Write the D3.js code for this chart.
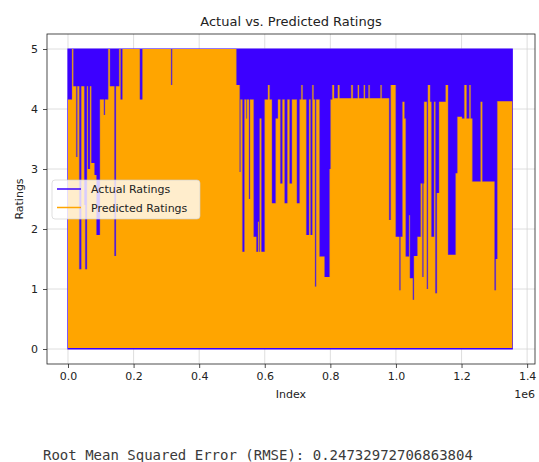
<!DOCTYPE html>
<html>
<head>
<meta charset="utf-8">
<script src="https://cdn.jsdelivr.net/npm/d3@7"></script>
<style>
  body { margin: 0; background: #fff; }
  svg text { font-family: "DejaVu Sans", sans-serif; fill: #222; }
</style>
</head>
<body>
<svg id="chart" width="539" height="462"></svg>
<script>
// actual ratings swing 0..5 across the whole index range
var actualIndex = [0, 1354600];
var actualLow = [0, 0];
var actualHigh = [5, 5];

// predicted ratings: [index where a step starts, upper envelope of the line]
var predicted = [
  [0, 4.16], [12200, 5], [16100, 4.38], [25300, 3.2], [28300, 4.38], [34400, 1.33],
  [40500, 4.38], [49600, 2.4], [52700, 1.33], [57800, 4.38], [60900, 3.0], [67000, 4.38],
  [70900, 3.1], [80700, 2.9], [86800, 1.9], [97400, 4.16], [109600, 3.9], [112600, 4.16],
  [122700, 5], [127900, 4.38], [141600, 1.55], [146100, 4.38], [156200, 5], [160400, 4.16],
  [165900, 5], [219200, 4.16], [226800, 5], [314500, 4.4], [317500, 5],
  [513500, 4.4], [523600, 2.95], [525700, 4.16], [531800, 1.62], [537900, 4.16], [544000, 3.84],
  [545800, 4.16], [551900, 2.5], [554900, 4.16], [566200, 1.87], [574400, 1.62], [579300, 2.12],
  [582300, 1.62], [584500, 3.84], [589600, 1.62], [599700, 4.16], [609700, 4.4], [614900, 4.16],
  [621900, 2.43], [633200, 3.84], [640200, 4.16], [647500, 2.76], [653600, 4.16], [660600, 2.43],
  [668800, 4.16], [675800, 2.76], [682800, 4.16], [698000, 2.43], [706200, 4.16], [711400, 4.4],
  [715400, 4.16], [726600, 1.9], [735200, 4.16], [739700, 1.9], [744900, 4.4], [748800, 4.16],
  [753400, 1.04], [756500, 4.16], [767100, 1.54], [782300, 1.2], [797600, 3.0], [800600, 4.16],
  [805800, 4.4], [811300, 4.18], [822800, 4.4], [828000, 4.18], [863600, 4.4], [868500, 4.18],
  [883700, 4.4], [887400, 4.18], [902000, 4.4], [905600, 4.18], [916300, 4.4], [919900, 4.18],
  [952800, 4.4], [956500, 4.18], [979300, 2.15], [984200, 4.4], [999400, 1.87], [1010600, 0.98],
  [1013700, 1.87], [1019800, 4.12], [1025900, 3.84], [1029800, 1.54], [1040200, 2.23], [1042600, 1.18],
  [1051700, 0.82], [1054800, 1.55], [1065400, 1.87], [1075500, 2.76], [1080700, 1.2], [1083700, 2.76],
  [1085800, 4.12], [1094400, 1.0], [1097400, 4.4], [1104100, 4.12], [1108100, 1.87], [1116300, 4.12],
  [1120200, 0.93], [1124800, 2.6], [1131500, 4.12], [1151600, 4.4], [1158900, 1.57], [1182000, 2.93],
  [1187200, 3.87], [1201500, 3.84], [1208500, 4.4], [1215500, 3.84], [1223700, 4.4], [1227700, 3.84],
  [1232900, 2.79], [1258100, 4.12], [1263300, 2.79], [1300700, 0.98], [1304400, 1.5], [1309000, 4.13],
  [1354600, 4.13]
];
var predictedLow = 0.015;

var xTicks = [0, 200000, 400000, 600000, 800000, 1000000, 1200000, 1400000];
var xTickLabels = ["0.0", "0.2", "0.4", "0.6", "0.8", "1.0", "1.2", "1.4"];
var yTicks = [0, 1, 2, 3, 4, 5];
var yTickLabels = ["0", "1", "2", "3", "4", "5"];
var rmse = "0.24732972706863804";

(function draw() {
  var svg = d3.select("#chart");
  var left = 47, right = 535, plotTop = 34, plotBottom = 364;

  var x = d3.scaleLinear().domain([-64000, 1424000]).range([left, right]);
  var y = d3.scaleLinear().domain([-0.25, 5.25]).range([plotBottom, plotTop]);

  var blue = "#3c00ff", orange = "#ffa500";

  // grid
  var grid = svg.append("g").attr("stroke", "#d6d6d6").attr("stroke-width", 0.8);
  xTicks.forEach(function(t) {
    grid.append("line").attr("x1", x(t)).attr("x2", x(t)).attr("y1", plotTop).attr("y2", plotBottom);
  });
  yTicks.forEach(function(t) {
    grid.append("line").attr("x1", left).attr("x2", right).attr("y1", y(t)).attr("y2", y(t));
  });

  // actual band
  var actual = actualIndex.map(function(d, i) { return {i: d, lo: actualLow[i], hi: actualHigh[i]}; });
  svg.append("path")
    .datum(actual)
    .attr("d", d3.area().x(function(d) { return x(d.i); }).y0(function(d) { return y(d.lo); }).y1(function(d) { return y(d.hi); }))
    .attr("fill", blue)
    .attr("stroke", blue)
    .attr("stroke-width", 1.2);

  // predicted envelope
  svg.append("path")
    .datum(predicted)
    .attr("d", d3.area().curve(d3.curveStepAfter)
      .x(function(d) { return x(d[0]); })
      .y0(y(predictedLow))
      .y1(function(d) { return y(d[1]); }))
    .attr("fill", orange);

  // where blue and orange strokes overlap the edges look greyish
  var edges = svg.append("g").attr("stroke", "#8a5f8a").attr("stroke-opacity", 0.55).attr("stroke-width", 0.7);
  predicted.forEach(function(d, i) {
    if (i === 0) return;
    var prev = predicted[i - 1][1];
    if (prev === d[1]) return;
    edges.append("line")
      .attr("x1", x(d[0])).attr("x2", x(d[0]))
      .attr("y1", y(Math.min(prev, d[1]))).attr("y2", y(Math.max(prev, d[1])));
  });

  // axes
  var xAxis = svg.append("g")
    .attr("transform", "translate(0," + plotBottom + ")")
    .call(d3.axisBottom(x).tickValues(xTicks)
      .tickFormat(function(d, i) { return xTickLabels[i]; })
      .tickSize(4).tickPadding(4.5));
  var yAxis = svg.append("g")
    .attr("transform", "translate(" + left + ",0)")
    .call(d3.axisLeft(y).tickValues(yTicks)
      .tickFormat(function(d, i) { return yTickLabels[i]; })
      .tickSize(4).tickPadding(5));
  [xAxis, yAxis].forEach(function(g) {
    g.select(".domain").remove();
    g.selectAll("line").attr("stroke", "#222").attr("stroke-width", 0.8);
    g.selectAll("text").style("font-size", "11px").style("font-family", "DejaVu Sans, sans-serif").attr("fill", "#222");
  });

  // frame
  svg.append("rect")
    .attr("x", left).attr("y", plotTop)
    .attr("width", right - left).attr("height", plotBottom - plotTop)
    .attr("fill", "none").attr("stroke", "#222").attr("stroke-width", 0.8);

  // titles
  svg.append("text").attr("x", (left + right) / 2).attr("y", 26)
    .attr("text-anchor", "middle").style("font-size", "13px").text("Actual vs. Predicted Ratings");
  svg.append("text").attr("x", (left + right) / 2).attr("y", 398)
    .attr("text-anchor", "middle").style("font-size", "11px").text("Index");
  svg.append("text").attr("x", right).attr("y", 398)
    .attr("text-anchor", "end").style("font-size", "11px").text("1e6");
  svg.append("text").attr("transform", "translate(23," + (plotTop + plotBottom) / 2 + ") rotate(-90)")
    .attr("text-anchor", "middle").style("font-size", "11px").text("Ratings");

  // legend
  var legend = svg.append("g").attr("transform", "translate(52,180)");
  legend.append("rect").attr("width", 148).attr("height", 39).attr("rx", 3)
    .attr("fill", "#fff").attr("fill-opacity", 0.8)
    .attr("stroke", "#cccccc").attr("stroke-opacity", 0.8).attr("stroke-width", 0.8);
  [["Actual Ratings", blue], ["Predicted Ratings", orange]].forEach(function(e, i) {
    var cy = 9 + i * 18.5;
    legend.append("line").attr("x1", 5).attr("x2", 29).attr("y1", cy).attr("y2", cy)
      .attr("stroke", e[1]).attr("stroke-width", 1.5);
    legend.append("text").attr("x", 39).attr("y", cy + 4).style("font-size", "11px").text(e[0]);
  });

  // printed metric below the figure
  svg.append("text").attr("x", 43).attr("y", 460)
    .style("font-family", "'DejaVu Sans Mono', monospace").style("font-size", "14px")
    .style("fill", "#3a3a3a")
    .text("Root Mean Squared Error (RMSE): " + rmse);
})();
</script>
</body>
</html>
